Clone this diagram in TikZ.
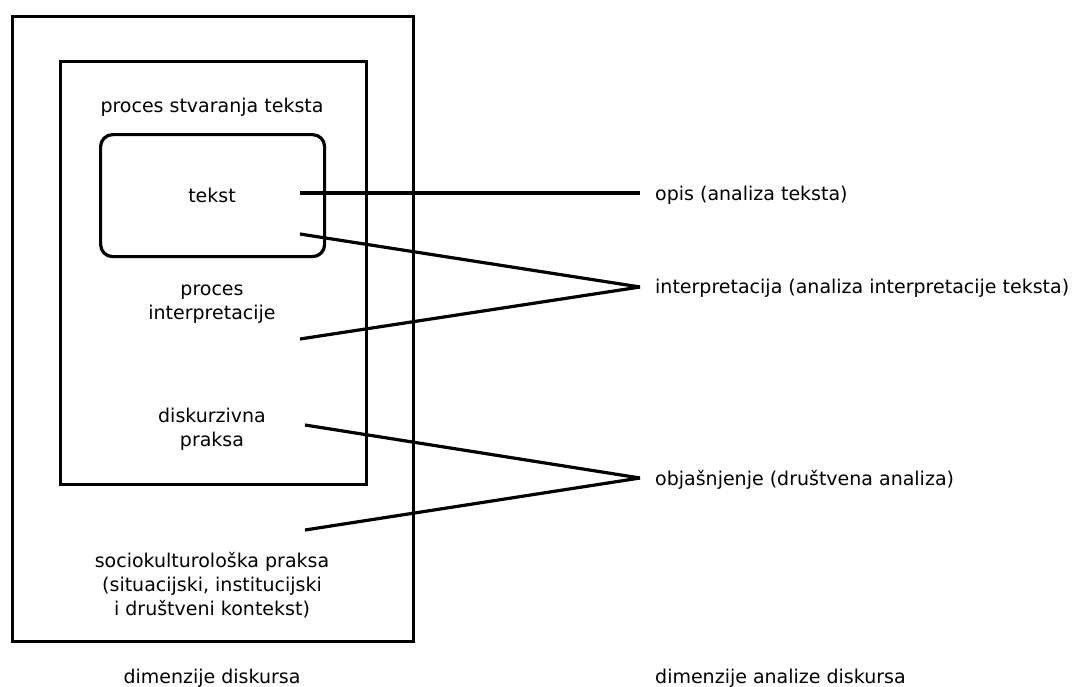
\documentclass[tikz,border=0pt]{standalone}
\usepackage{fontspec}
\setmainfont{DejaVu Sans}
\begin{document}
\begin{tikzpicture}[x=1pt,y=-1pt,
  frame/.style={draw, line width=3.2pt, rectangle, inner sep=0pt, anchor=north west},
  lbl/.style={inner sep=0pt, font=\fontsize{19}{24}\selectfont, align=center, anchor=base},
  rlbl/.style={inner sep=0pt, font=\fontsize{19}{24}\selectfont, anchor=base west},
  conn/.style={line width=3.2pt}]
\useasboundingbox (0,0) rectangle (1075,686);
% boxes
\node[frame, minimum width=401pt, minimum height=625pt] (outer) at (11,15) {};
\node[frame, minimum width=306pt, minimum height=423pt] (inner) at (59,60) {};
\node[frame, rounded corners=12pt, minimum width=224pt, minimum height=122pt] (textbox) at (99,133) {};
% texts in boxes (base = baseline of last line)
\node[lbl] (stvaranje) at (212,112) {proces stvaranja teksta};
\node[lbl] (tekst) at (212,202) {tekst};
\node[lbl] (interp) at (212,319) {proces\\interpretacije};
\node[lbl] (disk) at (212,446) {diskurzivna\\praksa};
\node[lbl] (socio) at (212,615) {sociokulturološka praksa\\(situacijski, institucijski\\i društveni kontekst)};
\node[lbl] (dimd) at (212,683) {dimenzije diskursa};
% right labels
\node[rlbl] (opis) at (655,200) {opis (analiza teksta)};
\node[rlbl] (interpretacija) at (655,293) {interpretacija (analiza interpretacije teksta)};
\node[rlbl] (objasnjenje) at (655,485) {objašnjenje (društvena analiza)};
\node[rlbl] (dima) at (655,683) {dimenzije analize diskursa};
% connector ends
\coordinate (c1) at (300,193);
\coordinate (c2) at (300,234);
\coordinate (c3) at (300,339);
\coordinate (c4) at (305,425);
\coordinate (c5) at (305,530);
\coordinate (a1) at (640,193);
\coordinate (a2) at (640,287);
\coordinate (a3) at (640,478);
\draw[conn] (c1) -- (a1);
\draw[conn] (c2) -- (a2);
\draw[conn] (c3) -- (a2);
\draw[conn] (c4) -- (a3);
\draw[conn] (c5) -- (a3);
\end{tikzpicture}
\end{document}
